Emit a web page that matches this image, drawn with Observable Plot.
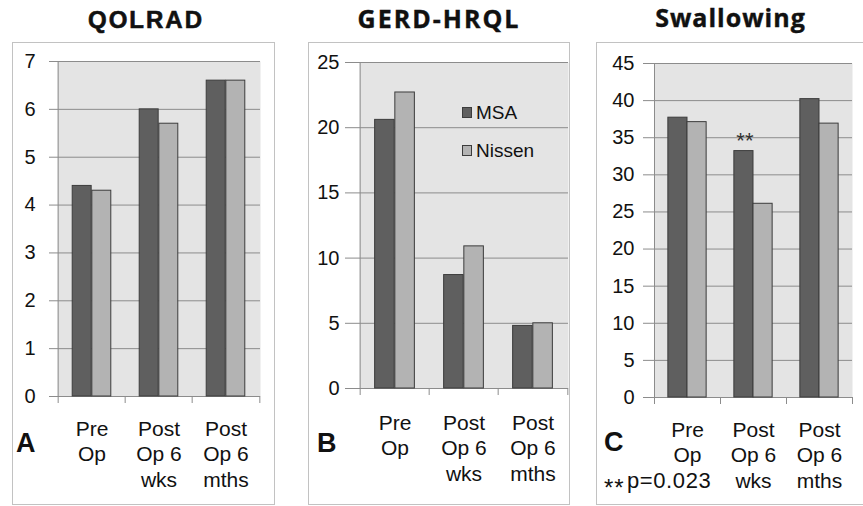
<!DOCTYPE html>
<html>
<head>
<meta charset="utf-8">
<script src="https://cdn.jsdelivr.net/npm/d3@7"></script>
<script src="https://cdn.jsdelivr.net/npm/@observablehq/plot@0.6"></script>
<style>
  html, body { margin: 0; padding: 0; background: #fff; }
  #wrap { position: relative; width: 863px; height: 506px; overflow: hidden; background: #fff;
          font-family: "Liberation Sans", Arial, sans-serif; color: #111; }
  .abs { position: absolute; white-space: nowrap; line-height: 1; }
  .frame { position: absolute; box-sizing: border-box; border: 1.5px solid #c2c2c2; }
  .sw { position: absolute; box-sizing: border-box; border: 1px solid #3c3c3c; }
</style>
</head>
<body>
<div id="wrap"></div>
<script>
// ---------- data ----------
const categories = ["Pre Op", "Post Op 6 wks", "Post Op 6 mths"];
const categoryLines = ["Pre\nOp", "Post\nOp 6\nwks", "Post\nOp 6\nmths"];
const seriesNames = ["MSA", "Nissen"];

const qolradMSA = [4.4, 6.0, 6.6];
const qolradNissen = [4.3, 5.7, 6.6];
const qolradTicks = [0, 1, 2, 3, 4, 5, 6, 7];

const gerdMSA = [20.6, 8.7, 4.8];
const gerdNissen = [22.7, 10.9, 5.0];
const gerdTicks = [0, 5, 10, 15, 20, 25];

const swallowMSA = [37.7, 33.2, 40.2];
const swallowNissen = [37.1, 26.1, 36.9];
const swallowTicks = [0, 5, 10, 15, 20, 25, 30, 35, 40, 45];

const panelTitles = ["QOLRAD", "GERD-HRQL", "Swallowing"];
const panelLetters = ["A", "B", "C"];
const sigMark = "**";
const sigNote = "p=0.023";

// ---------- style ----------
const DARK = "#5f5f5f", LIGHT = "#b3b3b3", EDGE = "#3c3c3c";
const BG = "#e4e4e4", GRID = "#8c8c8c", INK = "#111";
const FONT = '"Liberation Sans", Arial, sans-serif';

const wrap = document.getElementById("wrap");

function placeText(txt, {x, base, size, weight = "normal", family = FONT, anchor = "start", spacing = 0, ascentRatio = 0.8465, stroke = 0}) {
  const d = document.createElement("div");
  d.className = "abs";
  d.textContent = txt;
  d.style.fontSize = size + "px";
  d.style.fontWeight = weight;
  d.style.fontFamily = family;
  d.style.letterSpacing = spacing + "px";
  if (stroke) d.style.webkitTextStroke = stroke + "px #111";
  d.style.top = (base - ascentRatio * size) + "px";
  wrap.appendChild(d);
  if (anchor === "middle") {
    const w = d.getBoundingClientRect().width - spacing;
    d.style.left = (x - w / 2) + "px";
  } else d.style.left = x + "px";
  return d;
}

const panels = [
  { msa: qolradMSA, nissen: qolradNissen, ticks: qolradTicks, yMax: 7,
    frame: { left: 12, top: 42, width: 263, height: 463 },
    margin: { top: 19, right: 15, bottom: 109, left: 45 },
    tickSize: 8, tickPadding: 14, labelDy: 21,
    title: { x: 145, base: 28, size: 24, family: FONT, spacing: 2, asc: 0.8465, stroke: 0.6 },
    letter: { x: 16, base: 453 } },
  { msa: gerdMSA, nissen: gerdNissen, ticks: gerdTicks, yMax: 25,
    frame: { left: 308, top: 42, width: 262, height: 463 },
    margin: { top: 20, right: 2, bottom: 117, left: 51 },
    tickSize: 14, tickPadding: 6, labelDy: 23,
    title: { x: 438, base: 28, size: 25, family: '"Open Sans", sans-serif', spacing: 2, asc: 0.888, stroke: 0.4 },
    letter: { x: 317, base: 453 } },
  { msa: swallowMSA, nissen: swallowNissen, ticks: swallowTicks, yMax: 45,
    frame: { left: 596, top: 42, width: 270, height: 463 },
    margin: { top: 21, right: 14, bottom: 108, left: 58 },
    tickSize: 11, tickPadding: 9, labelDy: 21,
    title: { x: 730, base: 27, size: 25, family: '"Open Sans", sans-serif', spacing: 1, asc: 0.888, stroke: 0.4 },
    letter: { x: 604, base: 452 } }
];

panels.forEach((p, k) => {
  // frame border
  const fr = document.createElement("div");
  fr.className = "frame";
  Object.assign(fr.style, { left: p.frame.left + "px", top: p.frame.top + "px",
    width: p.frame.width + "px", height: p.frame.height + "px" });
  wrap.appendChild(fr);

  const m = p.margin;
  const plotW = p.frame.width - m.left - m.right;
  const plotH = p.frame.height - m.top - m.bottom;
  const bw = plotW / categories.length;
  const barW = bw * 0.29;
  const outer = bw / 2 - barW;
  const pxPerUnit = plotH / p.yMax;

  const marks = [
    Plot.frame({ fill: BG, stroke: "none" }),
    Plot.ruleY(p.ticks, { stroke: GRID, strokeWidth: 1 }),
    Plot.ruleX([categories[0]], { x: d => d, dx: -bw / 2, stroke: GRID }),
    Plot.ruleX(categories, { x: d => d, dx: -bw / 2, y1: 0, y2: -7 / pxPerUnit, stroke: GRID }),
    Plot.ruleX([categories[categories.length - 1]], { x: d => d, dx: bw / 2, y1: 0, y2: -7 / pxPerUnit, stroke: GRID }),
    Plot.barY(categories, { x: d => d, y: (d, i) => p.msa[i], fill: DARK, stroke: EDGE, strokeWidth: 1,
      insetLeft: outer, insetRight: bw / 2 }),
    Plot.barY(categories, { x: d => d, y: (d, i) => p.nissen[i], fill: LIGHT, stroke: EDGE, strokeWidth: 1,
      insetLeft: bw / 2, insetRight: outer }),
    Plot.axisY({ ticks: p.ticks, tickSize: p.tickSize, tickPadding: p.tickPadding, fontSize: 20,
      stroke: GRID, fill: INK, tickFormat: d => String(d), label: null }),
    Plot.text(categories, { x: d => d, text: (d, i) => categoryLines[i], frameAnchor: "bottom",
      lineAnchor: "top", dy: p.labelDy, fontSize: 21, lineHeight: 1.22, fill: INK })
  ];
  if (k === 2) {
    marks.push(Plot.text([categories[1]], { x: d => d, y: p.msa[1], text: [sigMark],
      dx: -(bw / 2 - outer) / 2 + 1, dy: -3, lineAnchor: "bottom", fontSize: 22, fill: "#333",
      style: "letter-spacing:3px" }));
  }

  const svg = Plot.plot({
    width: p.frame.width, height: p.frame.height,
    marginTop: m.top, marginRight: m.right, marginBottom: m.bottom, marginLeft: m.left,
    x: { domain: categories, padding: 0, axis: null },
    y: { domain: [0, p.yMax], axis: null },
    style: { fontFamily: FONT, background: "transparent", overflow: "visible" },
    marks
  });
  Object.assign(svg.style, { position: "absolute", left: p.frame.left + "px", top: p.frame.top + "px" });
  wrap.appendChild(svg);

  // title and panel letter
  placeText(panelTitles[k], { x: p.title.x, base: p.title.base, size: p.title.size, weight: "bold",
    family: p.title.family, anchor: "middle", spacing: p.title.spacing, ascentRatio: p.title.asc, stroke: p.title.stroke });
  placeText(panelLetters[k], { x: p.letter.x, base: p.letter.base, size: 27, weight: "bold" });
});

// legend (panel B)
const legendColors = [DARK, LIGHT];
const legendBase = [119, 157];
seriesNames.forEach((s, i) => {
  const sw = document.createElement("div");
  sw.className = "sw";
  Object.assign(sw.style, { left: "462px", top: (legendBase[i] - 12.5) + "px", width: "10px", height: "11px",
    background: legendColors[i] });
  wrap.appendChild(sw);
  placeText(s, { x: 476, base: legendBase[i], size: 19 });
});

// significance note (panel C)
placeText(sigMark, { x: 604, base: 496, size: 24, spacing: 1 });
placeText(sigNote, { x: 627, base: 489, size: 22, spacing: 0.6 });
</script>
</body>
</html>
